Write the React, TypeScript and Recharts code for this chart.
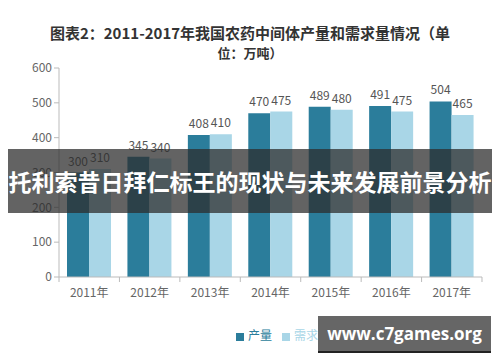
import { BarChart, Bar, XAxis, YAxis, Legend, LabelList } from "recharts";

const years = ["2011年", "2012年", "2013年", "2014年", "2015年", "2016年", "2017年"];
const output = [300, 345, 408, 470, 489, 491, 504];
const demand = [310, 340, 410, 475, 480, 475, 465];
const yTicks = [0, 100, 200, 300, 400, 500, 600];

const data = years.map((year, i) => ({ year, 产量: output[i], 需求量: demand[i] }));

const FONT = "'Noto Sans CJK SC', 'Noto Sans', sans-serif";

function YearTick(props: any) {
  const { x, y, payload, index } = props;
  const half = 30.2;
  return (
    <g>
      <line x1={x - half} y1={y - 8} x2={x - half} y2={y - 3} stroke="#bbb" />
      {index === years.length - 1 && (
        <line x1={x + half} y1={y - 8} x2={x + half} y2={y - 3} stroke="#bbb" />
      )}
      <text x={x} y={y + 12} textAnchor="middle" fill="#666" fontSize={12} fontFamily={FONT}>
        {payload.value}
      </text>
    </g>
  );
}

export default function App() {
  return (
    <div style={{ position: "absolute", left: 0, top: 0, width: 500, height: 362, background: "#fff", overflow: "hidden", fontFamily: FONT }}>
      <div style={{ position: "absolute", top: 23, left: 0, width: 500, textAlign: "center", fontSize: 15, fontWeight: 700, color: "#333", lineHeight: "19px" }}>
        图表2：2011-2017年我国农药中间体产量和需求量情况（单
        <br />
        <span style={{ fontSize: 13 }}>位：万吨）</span>
      </div>
      <BarChart
        width={500}
        height={362}
        data={data}
        margin={{ top: 68, right: 18, bottom: 38, left: 19 }}
        barGap={0}
        barSize={22}
        style={{ position: "absolute", left: 0, top: 0 }}
      >
        <YAxis
          width={40}
          domain={[0, 600]}
          ticks={yTicks}
          axisLine={{ stroke: "#bbb" }}
          tickLine={{ stroke: "#bbb" }}
          tickSize={5}
          tick={{ fill: "#666", fontSize: 12, fontFamily: FONT }}
        />
        <XAxis
          dataKey="year"
          height={30}
          axisLine={{ stroke: "#bbb" }}
          tickLine={false}
          tick={<YearTick />}
        />
        <Legend
          verticalAlign="bottom"
          iconType="square"
          iconSize={8}
          wrapperStyle={{ top: 326, left: 228, width: 120, fontSize: 12, color: "#666" }}
        />
        <Bar dataKey="产量" fill="#2b7d9b" isAnimationActive={false}>
          <LabelList dataKey="产量" position="top" offset={7} fill="#555" fontSize={12} fontFamily={FONT} />
        </Bar>
        <Bar dataKey="需求量" fill="#a9d6e7" isAnimationActive={false}>
          <LabelList dataKey="需求量" position="top" offset={7} fill="#555" fontSize={12} fontFamily={FONT} />
        </Bar>
      </BarChart>
      <div style={{ position: "absolute", left: 8, top: 149, width: 484, height: 64, background: "rgba(45,45,45,0.74)", color: "#fff", fontSize: 23, fontWeight: 700, lineHeight: "64px", textAlign: "center", whiteSpace: "nowrap" }}>
        托利索昔日拜仁标王的现状与未来发展前景分析
      </div>
      <div style={{ position: "absolute", left: 318, top: 316, width: 173, height: 35, background: "#666", borderBottom: "2px solid #222", color: "#fff", fontSize: 17, fontWeight: 700, lineHeight: "35px", textAlign: "center", fontFamily: "'Open Sans', 'Noto Sans', sans-serif" }}>
        www.c7games.org
      </div>
    </div>
  );
}
